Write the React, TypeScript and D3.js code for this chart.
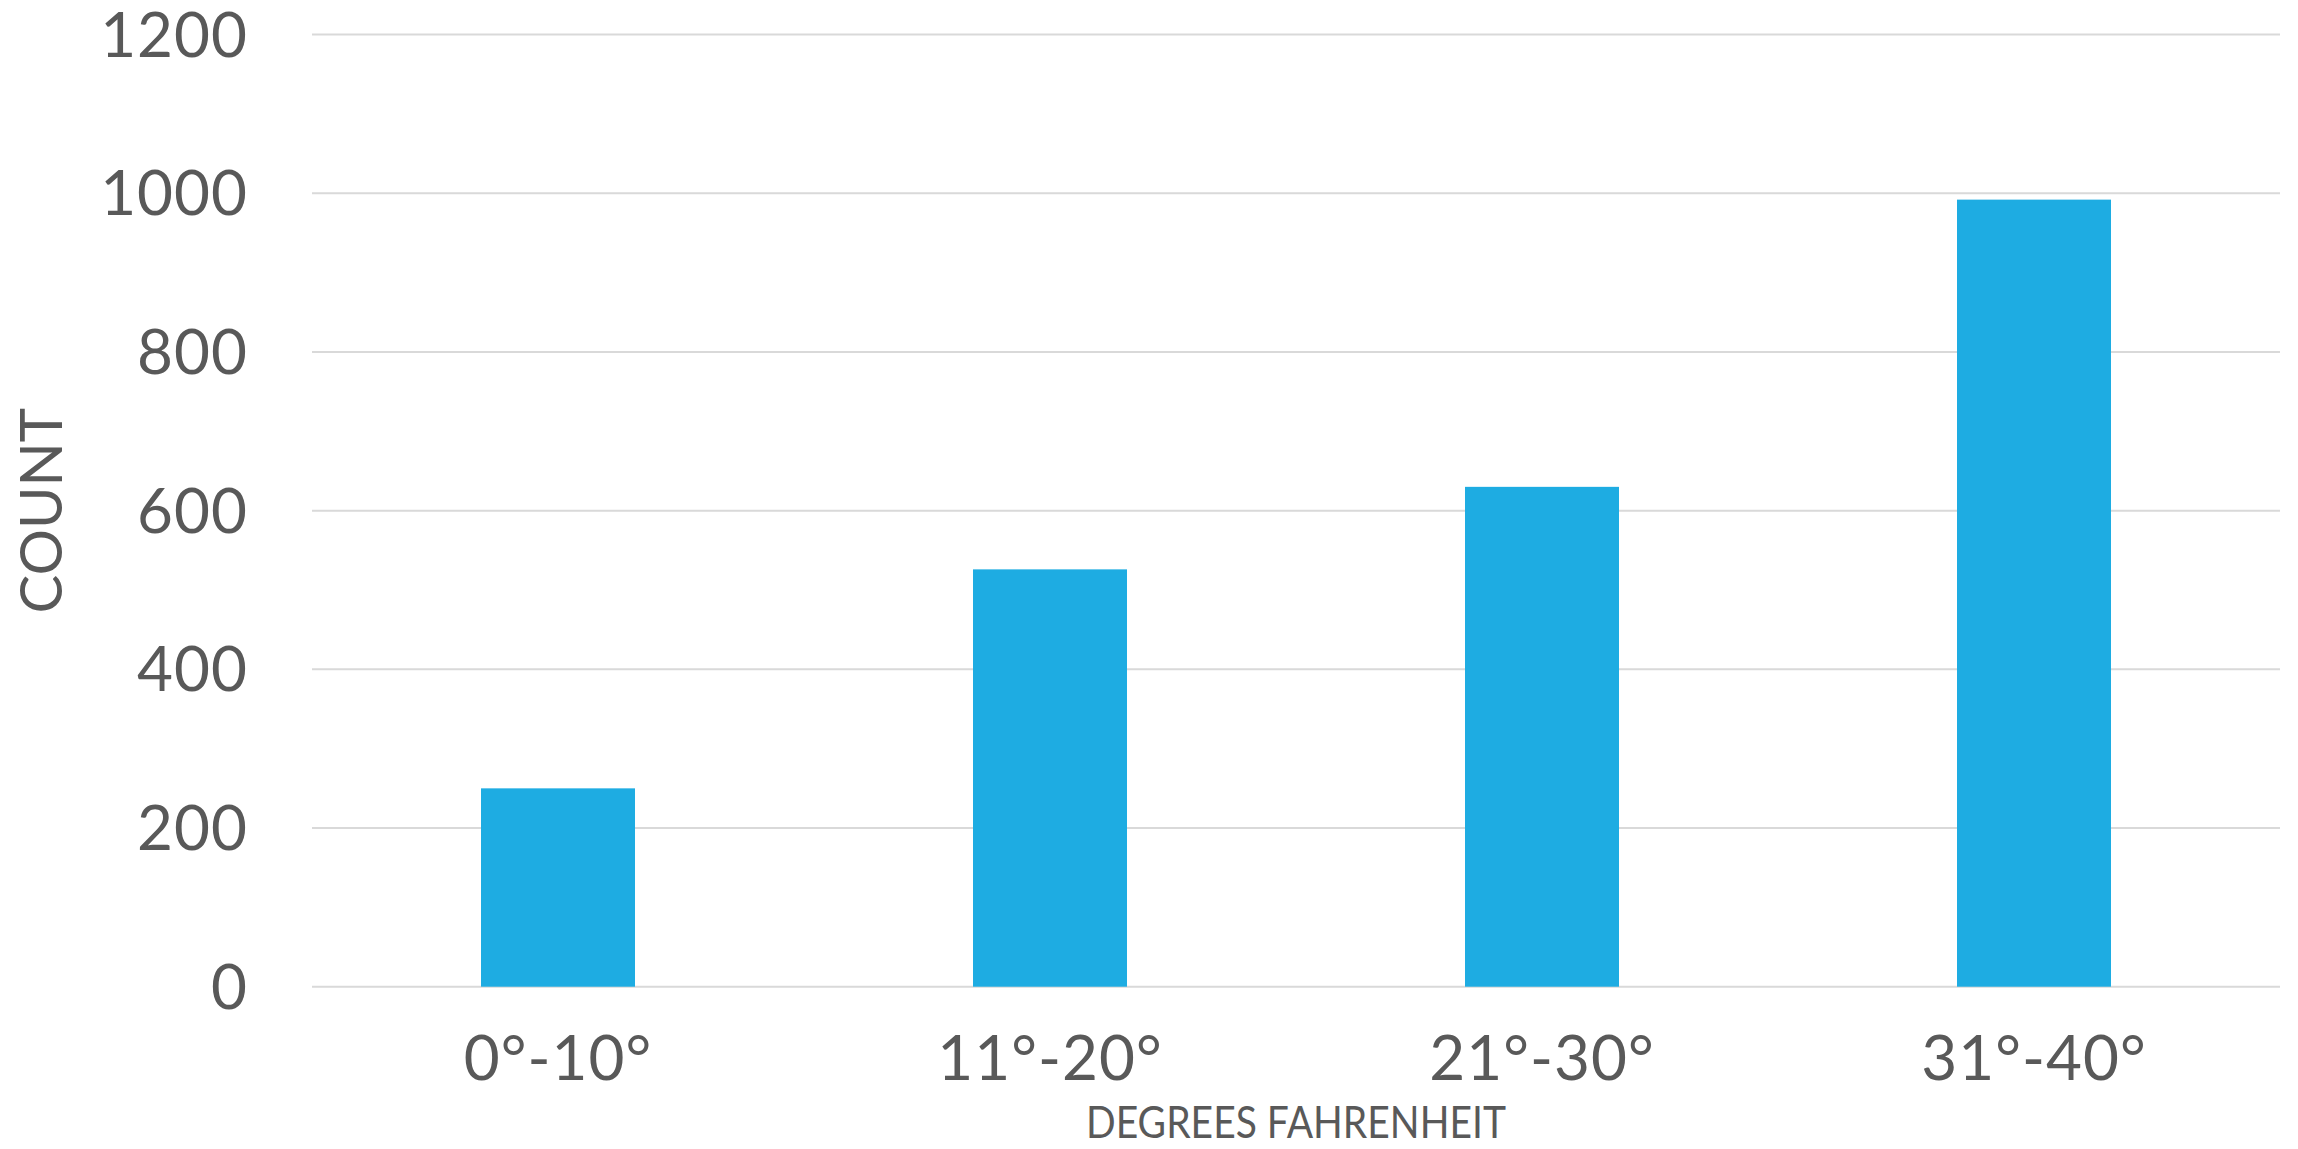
import React, { useEffect } from "react";
import * as d3 from "d3";

const categories: string[] = ["0°-10°", "11°-20°", "21°-30°", "31°-40°"];
const counts: number[] = [250, 526, 630, 992];
const yTicks: number[] = [0, 200, 400, 600, 800, 1000, 1200];
const yTitle = "COUNT";
const xTitle = "DEGREES FAHRENHEIT";

const W = 2298;
const H = 1149;
const left = 312;
const right = 2280;
const top = 34.6;
const bottom = 986.7;

const TEXT = "#595959";
const GRID = "#d9d9d9";
const BAR = "#1eace2";
const FONT = "Lato, 'Open Sans', 'DejaVu Sans', sans-serif";

export default function App() {
  useEffect(() => {
    document.body.style.margin = "0";
    document.body.style.overflow = "hidden";
  }, []);

  const x = d3
    .scaleBand<string>()
    .domain(categories)
    .range([left, right])
    .paddingInner(0.687)
    .paddingOuter(0.3435);
  const y = d3.scaleLinear().domain([0, 1200]).range([bottom, top]);

  return (
    <svg
      width={W}
      height={H}
      style={{ position: "absolute", left: 0, top: 0, background: "#fff" }}
    >
      {yTicks.map((t) => (
        <g key={t}>
          <line x1={left} x2={right} y1={y(t)} y2={y(t)} stroke={GRID} strokeWidth={2} />
          <text
            x={248}
            y={y(t) + 22}
            textAnchor="end"
            fontFamily={FONT}
            fontSize={62}
            fill={TEXT}
            letterSpacing={1}
          >
            {t}
          </text>
        </g>
      ))}
      {categories.map((c, i) => (
        <g key={c}>
          <rect
            x={x(c)}
            y={y(counts[i])}
            width={x.bandwidth()}
            height={y(0) - y(counts[i])}
            fill={BAR}
          />
          <text
            x={(x(c) as number) + x.bandwidth() / 2}
            y={1080}
            textAnchor="middle"
            fontFamily={FONT}
            fontSize={62}
            fill={TEXT}
            letterSpacing={1}
          >
            {c}
          </text>
        </g>
      ))}
      <text
        transform={`translate(62, ${(top + bottom) / 2}) rotate(-90)`}
        textAnchor="middle"
        fontFamily={FONT}
        fontSize={58}
        fill={TEXT}
      >
        {yTitle}
      </text>
      <text
        x={(left + right) / 2}
        y={1138}
        textAnchor="middle"
        fontFamily={FONT}
        fontSize={44}
        fill={TEXT}
        textLength={420}
        lengthAdjust="spacingAndGlyphs"
      >
        {xTitle}
      </text>
    </svg>
  );
}
